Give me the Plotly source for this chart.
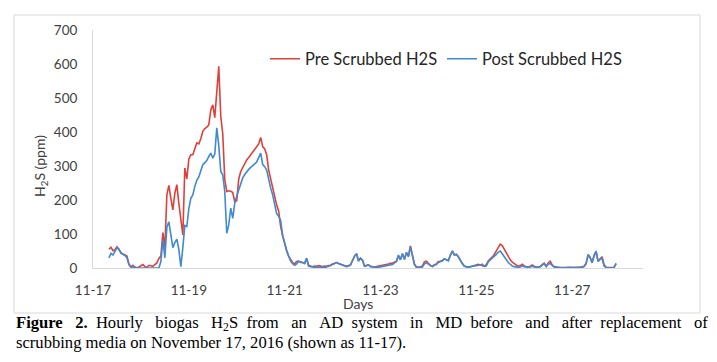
import pandas as pd
import plotly.graph_objects as go

# Hourly H2S (ppm), starting 2016-11-17 08:00
pre_scrubbed = [
    55, 61, 51, 54, 62, 55, 44, 40, 38, 35, 12, 3,
    8, 2, 0, 3, 7, 10, 4, 2, 8, 6, 5, 10,
    15, 28, 35, 104, 60, 215, 243, 205, 171, 220, 245, 190,
    150, 97, 294, 262, 320, 333, 333, 350, 368, 365, 380, 402,
    410, 414, 421, 465, 480, 442, 520, 593, 446, 395, 260, 225,
    227, 226, 222, 195, 198, 262, 284, 295, 308, 318, 325, 333,
    340, 350, 355, 365, 384, 357, 350, 333, 288, 260, 232, 205,
    185, 168, 122, 95, 70, 52, 35, 24, 16, 12, 19, 20,
    17, 16, 14, 28, 8, 5, 4, 6, 5, 7, 6, 4,
    6, 5, 7, 8, 12, 13, 16, 13, 11, 10, 8, 5,
    7, 9, 22, 35, 42, 22, 29, 22, 6, 8, 9, 5,
    3, 3, 4, 5, 7, 8, 9, 11, 12, 14, 14, 17,
    20, 36, 25, 42, 26, 45, 35, 65, 36, 12, 3, 2,
    3, 6, 18, 20, 13, 7, 5, 10, 12, 19, 20, 22,
    27, 25, 22, 37, 50, 39, 40, 33, 22, 13, 6, 3,
    2, 4, 6, 8, 9, 11, 9, 7, 5, 10, 21, 27,
    32, 40, 50, 62, 70, 66, 55, 45, 33, 24, 17, 13,
    9, 5, 7, 11, 6, 3, 2, 5, 9, 5, 2, 3,
    4, 10, 14, 5, 15, 20, 9, 4, 2, 2, 1, 2,
    1, 1, 2, 2, 1, 2, 3, 2, 2, 3, 5, 14,
    38, 30, 16, 35, 48, 20, 28, 33, 10, 2, 1, 1,
    1, 2, 12,
]
post_scrubbed = [
    30, 43, 38, 50, 60, 55, 45, 40, 37, 30, 10, 2,
    0, 3, 0, 0, 0, 1, 0, 0, 0, 0, 0, 0,
    0, 0, 19, 83, 30, 120, 136, 103, 60, 75, 85, 55,
    4, 60, 125, 122, 175, 205, 215, 240, 258, 268, 285, 304,
    310, 316, 328, 338, 323, 335, 412, 360, 284, 274, 225, 102,
    127, 176, 146, 190, 212, 228, 250, 265, 275, 284, 290, 296,
    300, 306, 312, 325, 338, 304, 298, 288, 260, 235, 215, 190,
    160, 152, 140, 95, 68, 50, 35, 20, 13, 8, 12, 20,
    16, 16, 13, 29, 5, 3, 3, 2, 1, 2, 2, 1,
    2, 3, 4, 7, 10, 12, 16, 13, 11, 9, 8, 4,
    6, 9, 22, 35, 42, 20, 29, 24, 5, 8, 9, 4,
    2, 2, 1, 2, 2, 3, 5, 7, 8, 9, 10, 15,
    19, 38, 24, 42, 25, 46, 33, 62, 34, 10, 2, 1,
    1, 3, 12, 15, 11, 6, 4, 8, 10, 16, 18, 21,
    27, 25, 21, 38, 50, 38, 40, 33, 22, 13, 5, 3,
    2, 4, 5, 4, 5, 7, 9, 11, 5, 6, 18, 24,
    29, 34, 40, 47, 50, 42, 32, 26, 16, 11, 6, 4,
    2, 2, 3, 6, 4, 2, 2, 3, 5, 3, 2, 3,
    4, 10, 13, 4, 11, 13, 8, 3, 2, 1, 1, 1,
    0, 1, 1, 2, 1, 2, 2, 2, 1, 2, 4, 12,
    40, 32, 15, 38, 50, 19, 26, 28, 6, 1, 0, 0,
    0, 1, 14,
]
start_time = "2016-11-17 08:00"
tick_dates = ["2016-11-17", "2016-11-19", "2016-11-21", "2016-11-23", "2016-11-25", "2016-11-27"]
tick_labels = ["11-17", "11-19", "11-21", "11-23", "11-25", "11-27"]
y_ticks = [0, 100, 200, 300, 400, 500, 600, 700]

times = pd.date_range(start_time, periods=len(pre_scrubbed), freq="h")

RED = "#E0403A"
BLUE = "#3F8AD0"
TXT = "#404040"
SANS = "Lato, 'Open Sans', sans-serif"
SERIF = "'Liberation Serif', 'Times New Roman', serif"

# page offset of the figure (browser body margin)
OFF = 8
# target page coordinates of the plot area
L, R, T, B = 93, 643, 30, 268
W, H = 701, 346
pw, ph = R - L, B - T
def px(x):
    return (x - L) / pw
def py(y):
    return (B - y) / ph

fig = go.Figure()
fig.add_trace(go.Scatter(x=times, y=pre_scrubbed, mode="lines", name="Pre Scrubbed H2S",
                         line=dict(color=RED, width=1.6), legend="legend", showlegend=True))
fig.add_trace(go.Scatter(x=times, y=post_scrubbed, mode="lines", name="Post Scrubbed H2S",
                         line=dict(color=BLUE, width=1.6), legend="legend2", showlegend=True))

leg_common = dict(orientation="h", bgcolor="rgba(0,0,0,0)", font=dict(family=SANS, size=16.5, color="#262626"),
                  xanchor="left", yanchor="middle", borderwidth=0, visible=True)
fig.update_layout(
    width=W, height=H,
    showlegend=True,
    margin=dict(l=L - OFF, r=W - (R - OFF), t=T - OFF, b=H - (B - OFF), pad=0),
    paper_bgcolor="white", plot_bgcolor="white",
    legend=dict(x=px(265), y=py(59), **leg_common),
    legend2=dict(x=px(442), y=py(59), **leg_common),
    xaxis=dict(type="date", range=["2016-11-17 00:00", "2016-11-28 11:30"],
               tickvals=tick_dates, ticktext=tick_labels, showgrid=False, zeroline=False,
               showline=True, linecolor="#D9D9D9", linewidth=1, ticks="",
               ticklabelstandoff=10,
               tickfont=dict(family=SANS, size=13.5, color=TXT)),
    yaxis=dict(range=[0, 700], tickvals=y_ticks, showgrid=False, zeroline=False,
               showline=True, linecolor="#D9D9D9", linewidth=1, ticks="",
               ticklabelstandoff=12,
               tickfont=dict(family=SANS, size=13.5, color=TXT)),
    shapes=[dict(type="rect", xref="paper", yref="paper",
                 x0=px(14), x1=px(700), y0=py(313), y1=py(15),
                 line=dict(color="#D9D9D9", width=1), layer="below")],
)

fig.add_annotation(text="H<sub>2</sub>S (ppm)", textangle=-90, xref="paper", yref="paper",
                   x=px(40), y=py(166), showarrow=False, xanchor="center", yanchor="middle",
                   font=dict(family=SANS, size=14, color=TXT))
fig.add_annotation(text="Days", xref="paper", yref="paper", x=px(358), y=py(303),
                   showarrow=False, xanchor="center", yanchor="middle",
                   font=dict(family=SANS, size=14, color=TXT))

# justified first caption line: widen the word gaps with non-breaking spaces
cap1_words = ["<b>Figure", "2.</b>", "Hourly", "biogas", "H<sub>2</sub>S", "from", "an", "AD",
              "system", "in", "MD", "before", "and", "after", "replacement", "of"]
gaps = ["\u00a0\u00a0\u00a0" if i % 3 != 1 else "\u00a0\u00a0" for i in range(len(cap1_words) - 1)]
cap1 = cap1_words[0]
for g, w in zip(gaps, cap1_words[1:]):
    cap1 += g + w
fig.add_annotation(text=cap1,
                   xref="paper", yref="paper", x=px(14), y=py(323), showarrow=False,
                   xanchor="left", yanchor="middle", font=dict(family=SERIF, size=16.6, color="black"))
fig.add_annotation(text="scrubbing media on November 17, 2016 (shown as 11-17).",
                   xref="paper", yref="paper", x=px(14), y=py(342), showarrow=False,
                   xanchor="left", yanchor="middle", font=dict(family=SERIF, size=16.6, color="black"))

fig.write_html("out.html")
